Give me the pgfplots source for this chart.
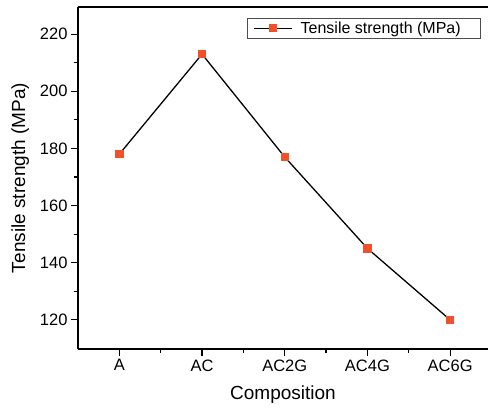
\documentclass[border=0pt]{standalone}
\usepackage{pgfplots}
\pgfplotsset{compat=1.18}
\usepackage{fontspec}
\setmainfont{Liberation Sans}
\definecolor{mk}{HTML}{F0502A}
\begin{document}
\begin{tikzpicture}
\begin{axis}[
  at={(78pt,-349pt)}, anchor=south west,
  scale only axis, width=410pt, height=342pt,
  xmin=-0.5, xmax=4.458, ymin=109.8, ymax=229.5,
  axis x line*=box, axis y line*=left,
  axis line style={line width=1.3pt},
  xtick={0,1,2,3,4}, xticklabels={A,AC,AC2G,AC4G,AC6G},
  minor xtick={0.5,1.5,2.5,3.5},
  ytick={120,140,160,180,200,220},
  minor ytick={130,150,170,190,210},
  tick align=outside, xtick pos=bottom, ytick pos=left,
  major tick length=7pt, minor tick length=4pt,
  tick style={line width=1.2pt, black},
  /pgf/number format/assume math mode=true,
  /pgf/number format/1000 sep={},
  tick label style={font=\fontsize{16.5}{19}\selectfont},
  label style={font=\fontsize{19}{22}\selectfont},
  xlabel={Composition}, ylabel={Tensile strength (MPa)},
  xlabel style={yshift=-8pt},
  ylabel style={yshift=4pt},
  legend style={at={(rel axis cs:0.983,0.968)}, anchor=north east,
    font=\fontsize{16}{19}\selectfont, draw=black!70, line width=0.6pt,
    inner xsep=6pt, inner ysep=1.5pt},
  legend cell align=left,
  legend image code/.code={\draw[mark repeat=2,mark phase=2,#1] plot coordinates {(0pt,0pt) (19pt,0pt) (38pt,0pt)};},
]
\addplot[black, line width=1.3pt, mark=square*, mark size=3.7pt,
  mark options={fill=mk, draw=mk, line width=0pt}]
  coordinates {(0,178) (1,213) (2,177) (3,145) (4,120)};
\addlegendentry{\kern6pt Tensile strength (MPa)\kern12pt}
\end{axis}
\pgfresetboundingbox
\path[use as bounding box] (0,0) rectangle (488pt,-410pt);
\end{tikzpicture}
\end{document}
